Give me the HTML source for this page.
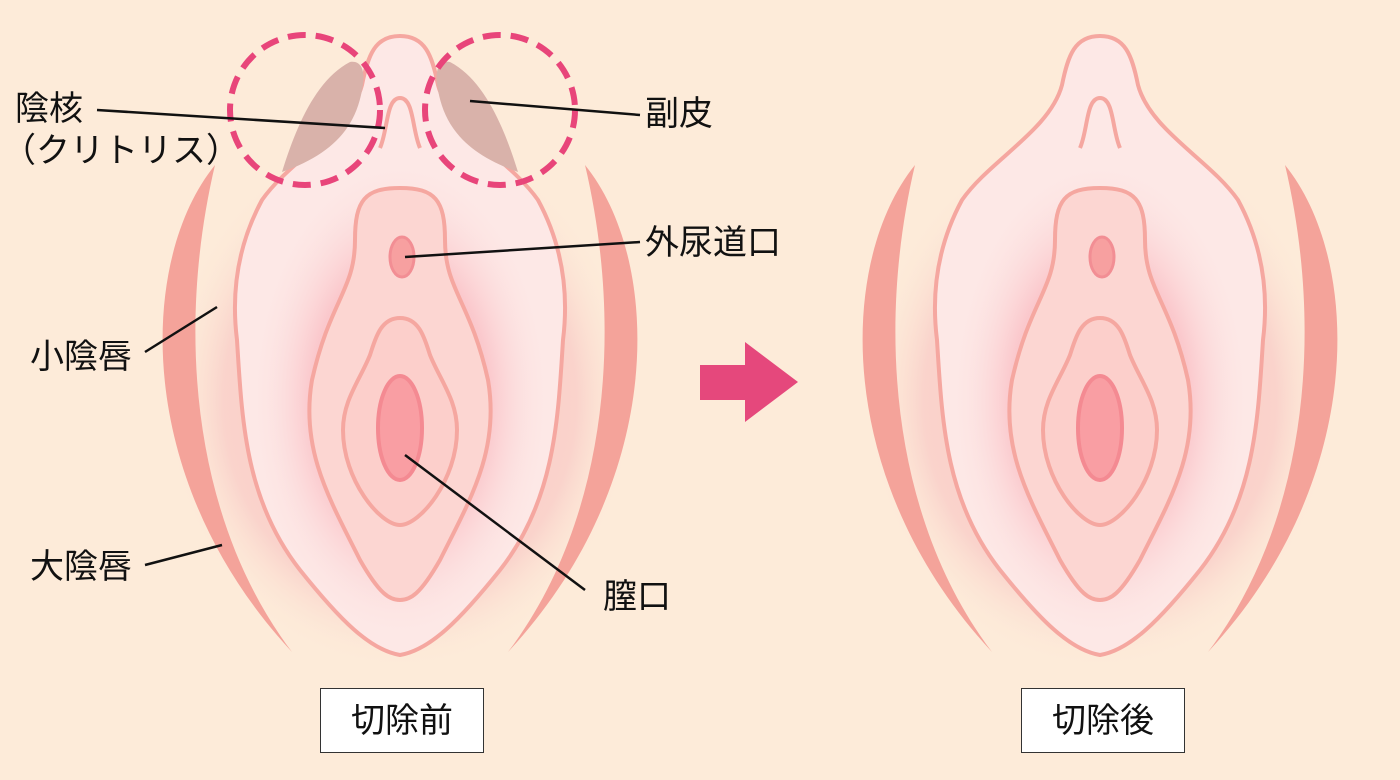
<!DOCTYPE html>
<html><head><meta charset="utf-8"><style>
html,body{margin:0;padding:0;background:#fdebd9;}
svg{display:block;}
text{font-family:"Liberation Sans","Noto Sans CJK JP",sans-serif;font-size:34px;fill:#111;}
</style></head><body>
<svg width="1400" height="780" viewBox="0 0 1400 780" xmlns="http://www.w3.org/2000/svg">
<defs>
<radialGradient id="glow" cx="50%" cy="50%" r="50%">
<stop offset="0" stop-color="#f7a6b4" stop-opacity="0.95"/>
<stop offset="0.6" stop-color="#f9b4bc" stop-opacity="0.6"/>
<stop offset="1" stop-color="#fde6e4" stop-opacity="0"/>
</radialGradient>
<radialGradient id="side" cx="50%" cy="50%" r="50%">
<stop offset="0" stop-color="#f9c4c0" stop-opacity="1"/>
<stop offset="0.75" stop-color="#f9cdc8" stop-opacity="0.8"/>
<stop offset="1" stop-color="#fdebd9" stop-opacity="0"/>
</radialGradient>
<g id="fig">
<ellipse cx="400" cy="400" rx="235" ry="270" fill="url(#side)"/>
<path d="M215,165 C138,260 132,480 292,652 C192,520 176,330 215,165 Z" fill="#f4a39a"/>
<path d="M585,165 C662,260 668,480 508,652 C608,520 624,330 585,165 Z" fill="#f4a39a"/>
<path d="M400,36 C375,36 368,55 362,85 C350,130 290,160 262,200 C235,250 232,300 237,340 C242,420 245,500 300,570 C340,620 370,650 400,655 C430,650 460,620 500,570 C555,500 558,420 563,340 C568,300 565,250 538,200 C510,160 450,130 438,85 C432,55 425,36 400,36 Z" fill="#fde8e6" stroke="#f5a7a0" stroke-width="4"/>
<ellipse cx="400" cy="400" rx="150" ry="240" fill="url(#glow)"/>
<path d="M380,148 C388,130 386,98 400,98 C414,98 412,130 420,148" fill="none" stroke="#f5a7a0" stroke-width="4"/>
<path d="M400,188 C365,188 355,200 355,240 C355,290 330,300 312,380 C300,450 330,500 360,560 C380,595 390,600 400,600 C410,600 420,595 440,560 C470,500 500,450 488,380 C470,300 445,290 445,240 C445,200 435,188 400,188 Z" fill="#fcd6d2" stroke="#f5a7a0" stroke-width="4"/>
<ellipse cx="402" cy="257" rx="12" ry="20" fill="#f7a0a0" stroke="#f28e94" stroke-width="3"/>
<path d="M400,318 C380,318 375,340 370,355 C360,380 343,400 343,430 C343,480 380,525 400,525 C420,525 457,480 457,430 C457,400 440,380 430,355 C425,340 420,318 400,318 Z" fill="#fccfcb" stroke="#f5a7a0" stroke-width="4"/>
<ellipse cx="400" cy="428" rx="22" ry="52" fill="#f99ea3" stroke="#f48a92" stroke-width="4"/>
</g>
</defs>
<rect width="1400" height="780" fill="#fdebd9"/>
<use href="#fig"/>
<use href="#fig" transform="translate(700,0)"/>
<path d="M282,172 C295,130 315,80 350,62 C362,60 366,72 362,90 C355,130 330,155 282,172 Z" fill="#d9b2aa"/>
<path d="M518,172 C505,130 485,80 450,62 C438,60 434,72 438,90 C445,130 470,155 518,172 Z" fill="#d9b2aa"/>
<circle cx="305" cy="110" r="75" fill="none" stroke="#e8457a" stroke-width="6" stroke-dasharray="18 10"/>
<circle cx="500" cy="110" r="75" fill="none" stroke="#e8457a" stroke-width="6" stroke-dasharray="18 10"/>
<g stroke="#111" stroke-width="2.5">
<line x1="97" y1="110" x2="385" y2="128"/>
<line x1="470" y1="101" x2="640" y2="115"/>
<line x1="405" y1="257" x2="640" y2="242"/>
<line x1="145" y1="352" x2="217" y2="307"/>
<line x1="145" y1="565" x2="222" y2="545"/>
<line x1="405" y1="455" x2="585" y2="590"/>
</g>
<text x="15" y="120">陰核</text>
<text x="2" y="162">（クリトリス）</text>
<text x="645" y="125">副皮</text>
<text x="645" y="254">外尿道口</text>
<text x="30" y="368">小陰唇</text>
<text x="30" y="578">大陰唇</text>
<text x="603" y="608">膣口</text>
<polygon points="700,365 745,365 745,342 798,382 745,422 745,400 700,400" fill="#e5487c"/>
<rect x="320.5" y="688.5" width="163" height="64" fill="#fff" stroke="#333" stroke-width="1"/>
<text x="402" y="732" text-anchor="middle">切除前</text>
<rect x="1021.5" y="688.5" width="163" height="64" fill="#fff" stroke="#333" stroke-width="1"/>
<text x="1103" y="732" text-anchor="middle">切除後</text>
</svg>
</body></html>
